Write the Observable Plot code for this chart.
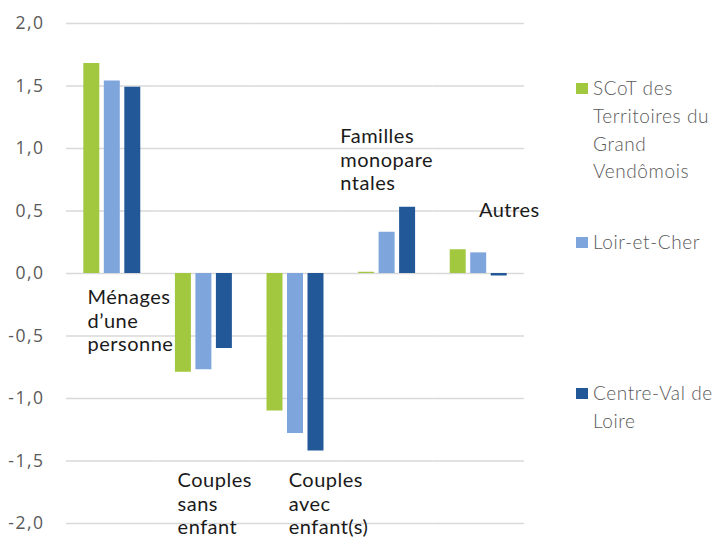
<!DOCTYPE html>
<html>
<head>
<meta charset="utf-8">
<script src="https://cdn.jsdelivr.net/npm/d3@7"></script>
<script src="https://cdn.jsdelivr.net/npm/@observablehq/plot@0.6"></script>
<style>
  body { margin: 0; background: #fff; }
  #wrap { position: relative; width: 724px; height: 537px; overflow: hidden; }
  #legend { position: absolute; left: 576px; top: 0; width: 148px; font-family: Lato, sans-serif; font-weight: 300; font-size: 19px; color: #595959; letter-spacing: 0.6px; }
  .item { position: absolute; left: 0; width: 148px; }
  .sw { position: absolute; left: 0; width: 12px; height: 11px; }
  .tx { position: absolute; left: 17px; line-height: 27.8px; white-space: nowrap; }
</style>
</head>
<body>
<div id="wrap"><div id="chart"></div><div id="legend"></div></div>
<script>
const categories = ["Ménages d’une personne", "Couples sans enfant", "Couples avec enfant(s)", "Familles monoparentales", "Autres"];
const categoryLines = [["Ménages", "d’une", "personne"], ["Couples", "sans", "enfant"], ["Couples", "avec", "enfant(s)"], ["Familles", "monopare", "ntales"], ["Autres"]];
const series = ["SCoT des Territoires du Grand Vendômois", "Loir-et-Cher", "Centre-Val de Loire"];
const seriesLines = [["SCoT des", "Territoires du", "Grand", "Vendômois"], ["Loir-et-Cher"], ["Centre-Val de", "Loire"]];
const scotValues = [1.68, -0.79, -1.10, 0.01, 0.19];
const loirValues = [1.54, -0.77, -1.28, 0.33, 0.165];
const centreValues = [1.49, -0.60, -1.42, 0.53, -0.02];
const yTicks = [-2, -1.5, -1, -0.5, 0, 0.5, 1, 1.5, 2];
const colors = ["#A2C83F", "#7EA6DC", "#235898"];

const valuesBySeries = [scotValues, loirValues, centreValues];
const rows = [];
categories.forEach((c, i) => series.forEach((s, j) => rows.push({category: c, series: s, value: valuesBySeries[j][i]})));

// label placement (layout, not data)
const labelLayout = [
  {dx: 21, y: -0.11},
  {dx: 19.5, y: -1.576},
  {dx: 39, y: -1.576},
  {dx: -1, y: 1.176},
  {dx: 46, y: 0.584}
];
const labelRows = categories.map((c, i) => ({category: c, text: categoryLines[i].join("\n")}));

const fmt = d => d.toFixed(1).replace(".", ",");

const chart = Plot.plot({
  width: 724,
  height: 537,
  marginLeft: 66,
  marginRight: 200,
  marginTop: 23,
  marginBottom: 14,
  style: {fontFamily: "Lato, sans-serif", background: "#fff"},
  fx: {domain: categories, padding: 0, axis: null, round: false},
  x: {domain: series, paddingInner: 0.22, paddingOuter: 0.845, axis: null, round: false},
  y: {domain: [-2, 2], axis: null},
  color: {domain: series, range: colors},
  marks: [
    Plot.ruleY(yTicks, {stroke: "#D9D9D9", strokeWidth: 1.4}),
    Plot.barY(rows, {fx: "category", x: "series", y: "value", fill: "series"}),
    Plot.axisY({ticks: yTicks, tickFormat: fmt, tickSize: 0, tickPadding: 22, fontSize: 17.5, fill: "#595959", facetAnchor: "left", label: null, fontFamily: "Open Sans, sans-serif"}),
    ...labelRows.map((r, i) => Plot.text([r], {
      fx: "category",
      y: () => labelLayout[i].y,
      text: "text",
      frameAnchor: "left",
      textAnchor: "start",
      lineAnchor: "top",
      lineHeight: 1.18,
      fontSize: 20,
      fill: "#1a1a1a",
      dx: labelLayout[i].dx
    }))
  ]
});
document.getElementById("chart").appendChild(chart);
chart.querySelectorAll("g[aria-label='text'] text").forEach(t => { t.style.letterSpacing = "0.5px"; });
chart.querySelectorAll("g[aria-label='y-axis tick label'] text").forEach(t => { t.style.letterSpacing = "1.5px"; });

const legendTops = [74, 228, 379];
const legend = document.getElementById("legend");
series.forEach((s, j) => {
  const item = document.createElement("div");
  item.className = "item";
  item.style.top = legendTops[j] + "px";
  const sw = document.createElement("div");
  sw.className = "sw";
  sw.style.background = colors[j];
  sw.style.top = "9px";
  const tx = document.createElement("div");
  tx.className = "tx";
  tx.innerHTML = seriesLines[j].join("<br>");
  item.appendChild(sw);
  item.appendChild(tx);
  legend.appendChild(item);
});
</script>
</body>
</html>
